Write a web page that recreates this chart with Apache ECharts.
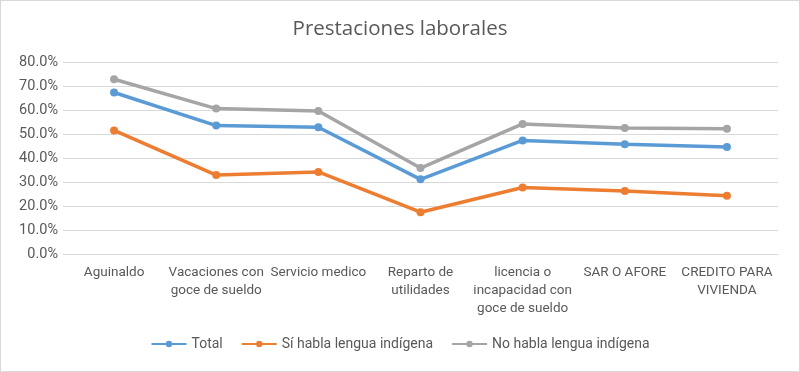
<!DOCTYPE html>
<html><head><meta charset="utf-8">
<script src="https://cdn.jsdelivr.net/npm/echarts@6/dist/echarts.min.js"></script>
<style>html,body{margin:0;padding:0;background:#fff}#c{width:798px;height:370px;border:1px solid #d9d9d9}</style>
</head><body><div id="c"></div>
<script>
var categories = ['Aguinaldo','Vacaciones con\ngoce de sueldo','Servicio medico','Reparto de\nutilidades','licencia o\nincapacidad con\ngoce de sueldo','SAR O AFORE','CREDITO PARA\nVIVIENDA'];
var total = [0.673, 0.535, 0.528, 0.311, 0.473, 0.457, 0.446];
var indigena = [0.515, 0.329, 0.342, 0.174, 0.277, 0.262, 0.243];
var noIndigena = [0.728, 0.606, 0.596, 0.358, 0.542, 0.525, 0.522];
var seriesNames = ['Total','Sí habla lengua indígena','No habla lengua indígena'];
var colors = ['#5B9BD5','#ED7D31','#A5A5A5'];
var font = "Roboto,sans-serif";
var chart = echarts.init(document.getElementById('c'));
function mk(name, data, color){
  return {name:name,type:'line',data:data,symbol:'circle',symbolSize:8,
    lineStyle:{width:3.5,color:color},itemStyle:{color:color}};
}
chart.setOption({
  animation:false,
  title:{text:'Prestaciones laborales',left:'center',top:13,textStyle:{fontFamily:'Open Sans, sans-serif',fontWeight:'normal',fontSize:20.5,color:'#595959'}},
  grid:{left:62,right:21,top:61,bottom:117},
  legend:{bottom:15,left:'center',itemWidth:35,itemHeight:8,itemGap:18,
    textStyle:{fontFamily:font,fontSize:14,color:'#595959'},
    data:seriesNames},
  xAxis:{type:'category',data:categories,boundaryGap:true,
    axisLine:{lineStyle:{color:'#d9d9d9'}},axisTick:{show:false},
    axisLabel:{interval:0,margin:10,fontFamily:font,fontSize:13.5,color:'#595959',lineHeight:18}},
  yAxis:{type:'value',min:0,max:0.8,interval:0.1,
    axisLine:{show:false},axisTick:{show:false},
    splitLine:{lineStyle:{color:'#d9d9d9'}},
    axisLabel:{margin:5,fontFamily:font,fontSize:14.5,color:'#595959',formatter:function(v){return (v*100).toFixed(1)+'%';}}},
  series:[mk(seriesNames[0],total,colors[0]),mk(seriesNames[1],indigena,colors[1]),mk(seriesNames[2],noIndigena,colors[2])]
});
</script></body></html>
